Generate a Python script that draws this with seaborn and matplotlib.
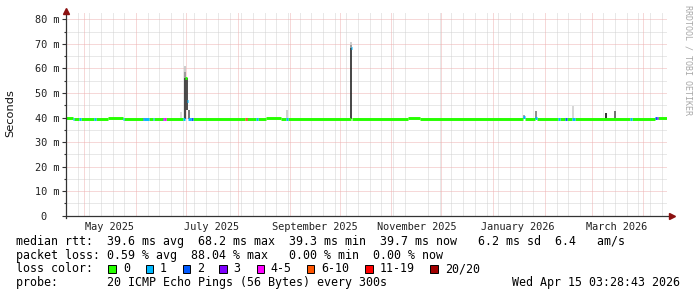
import matplotlib
matplotlib.use("Agg")
import matplotlib.pyplot as plt
import matplotlib.dates as mdates
from matplotlib.ticker import FixedLocator, FuncFormatter, NullFormatter
from matplotlib.patches import Rectangle
import seaborn as sns
import pandas as pd

# ---------------- data ----------------
# median rtt segments (start, end, median ms, loss class)
med_start = ["2025-04-20 00:00", "2025-04-24", "2025-04-25", "2025-04-28", "2025-04-29",
             "2025-05-07", "2025-05-08", "2025-05-15", "2025-05-24", "2025-05-25",
             "2025-06-05", "2025-06-06", "2025-06-09", "2025-06-11", "2025-06-12",
             "2025-06-17", "2025-06-18", "2025-06-19", "2025-06-29", "2025-06-30 12:00",
             "2025-07-01 06:00", "2025-07-02 00:00", "2025-07-04", "2025-07-05", "2025-08-05",
             "2025-08-06", "2025-08-06 18:00", "2025-08-12", "2025-08-13", "2025-08-18",
             "2025-08-27", "2025-08-30", "2025-08-31", "2025-10-07 18:00", "2025-10-08 12:00",
             "2025-11-11", "2025-11-18", "2026-01-19", "2026-01-20", "2026-01-26",
             "2026-01-27", "2026-02-09", "2026-02-10", "2026-02-13", "2026-02-14",
             "2026-02-17", "2026-02-19", "2026-03-24", "2026-03-25", "2026-04-08",
             "2026-04-09", "2026-04-10"]
med_end = ["2025-04-24", "2025-04-25", "2025-04-28", "2025-04-29", "2025-05-07",
           "2025-05-08", "2025-05-15", "2025-05-24", "2025-05-25", "2025-06-05",
           "2025-06-06", "2025-06-09", "2025-06-11", "2025-06-12", "2025-06-17",
           "2025-06-18", "2025-06-19", "2025-06-29", "2025-06-30 12:00", "2025-07-01 06:00",
           "2025-07-02 00:00", "2025-07-04", "2025-07-05", "2025-08-05", "2025-08-06",
           "2025-08-06 18:00", "2025-08-12", "2025-08-13", "2025-08-18", "2025-08-27",
           "2025-08-30", "2025-08-31", "2025-10-07 18:00", "2025-10-08 12:00", "2025-11-11",
           "2025-11-18", "2026-01-19", "2026-01-20", "2026-01-26", "2026-01-27",
           "2026-02-09", "2026-02-10", "2026-02-13", "2026-02-14", "2026-02-17",
           "2026-02-19", "2026-03-24", "2026-03-25", "2026-04-08", "2026-04-09",
           "2026-04-10", "2026-04-15 03:28"]
med_ms = [39.8, 39.6, 39.3, 39.3, 39.3,
          39.3, 39.3, 39.8, 39.6, 39.3,
          39.6, 39.6, 39.6, 39.6, 39.6,
          39.6, 39.6, 39.6, 39.6, 56.0,
          46.8, 39.6, 39.6, 39.6, 39.3,
          39.3, 39.6, 39.6, 39.6, 39.8,
          39.6, 39.6, 39.6, 68.2, 39.6,
          39.8, 39.6, 40.4, 39.6, 39.8,
          39.6, 39.6, 39.6, 39.6, 39.6,
          39.6, 39.6, 39.6, 39.6, 39.8,
          39.8, 39.7]
med_loss = ["0", "1", "0", "1", "0",
            "1", "0", "0", "1", "0",
            "2", "1", "0", "1", "0",
            "3", "4-5", "0", "1", "0",
            "1", "1", "2", "0", "6-10",
            "11-19", "0", "1", "0", "0",
            "0", "1", "0", "1", "0",
            "0", "0", "1", "0", "1",
            "0", "1", "0", "2", "0",
            "1", "0", "1", "0", "2",
            "3", "0"]

# smoke (ping spread) bars
smoke_t = ["2025-06-28 00:00", "2025-06-30 12:00", "2025-06-30 12:00", "2025-06-30 12:00",
           "2025-07-01 14:00", "2025-07-02 16:00", "2025-08-30 12:00", "2025-10-08 00:00",
           "2025-10-08 00:00", "2025-10-08 00:00", "2026-01-19 12:00", "2026-01-26 12:00",
           "2026-02-18 00:00", "2026-03-09 12:00", "2026-03-15 00:00"]
smoke_low = [39.6, 39.6, 56.0, 58.5, 43.0, 39.6, 39.6, 39.6, 68.2, 69.5, 39.6, 39.6, 39.6, 39.6, 39.6]
smoke_high = [42.4, 56.0, 58.5, 61.2, 56.0, 43.0, 43.0, 68.2, 69.5, 70.6, 41.0, 42.5, 44.7, 41.8, 42.5]
smoke_shade = ["#d8d8d8", "#262626", "#8a8a8a", "#c4c4c4", "#303030", "#5a5a5a", "#c8c8c8",
               "#262626", "#8a8a8a", "#c8c8c8", "#9a9a9a", "#7a7a7a", "#cfcfcf", "#111111", "#5a5a5a"]

loss_classes = ["0", "1", "2", "3", "4-5", "6-10", "11-19", "20/20"]
loss_colors = ["#26ff00", "#00b8ff", "#0059ff", "#7e00ff", "#ff00ff", "#ff5500", "#ff0000", "#a10000"]

month_labels = ["May 2025", "July 2025", "September 2025", "November 2025", "January 2026", "March 2026"]
month_label_dates = ["2025-05-16", "2025-07-16", "2025-09-16", "2025-11-16", "2026-01-16", "2026-03-16"]

y_ticks = [0, 10, 20, 30, 40, 50, 60, 70, 80]

line1 = "median rtt:  39.6 ms avg  68.2 ms max  39.3 ms min  39.7 ms now   6.2 ms sd  6.4   am/s"
line2 = "packet loss: 0.59 % avg  88.04 % max   0.00 % min  0.00 % now"
line4 = "probe:       20 ICMP Echo Pings (56 Bytes) every 300s"
stamp = "Wed Apr 15 03:28:43 2026"

# ---------------- build tables ----------------
rows = []
for i, (s, e, v, l) in enumerate(zip(med_start, med_end, med_ms, med_loss)):
    rows.append((i, pd.Timestamp(s), v, l))
    rows.append((i, pd.Timestamp(e), v, l))
med_df = pd.DataFrame(rows, columns=["seg", "t", "ms", "loss"])

srows = []
for i, (t, lo, hi, c) in enumerate(zip(smoke_t, smoke_low, smoke_high, smoke_shade)):
    srows.append((i, pd.Timestamp(t), lo, c))
    srows.append((i, pd.Timestamp(t), hi, c))
smoke_df = pd.DataFrame(srows, columns=["bar", "t", "ms", "shade"])

# ---------------- figure ----------------
W, H = 697, 297
fig = plt.figure(figsize=(W / 100, H / 100), dpi=100)
fig.patch.set_facecolor("white")
ax = fig.add_axes([66 / W, 1 - 215.7 / H, 601 / W, 202.7 / H])
ax.set_facecolor("white")

x0 = pd.Timestamp("2025-04-20 00:00")
x1 = pd.Timestamp("2026-04-15 03:28")

sns.lineplot(data=smoke_df, x="t", y="ms", hue="shade", units="bar", estimator=None,
             palette={c: c for c in set(smoke_shade)}, linewidth=1.2, legend=False,
             sort=False, ax=ax, solid_capstyle="butt")
sns.lineplot(data=med_df, x="t", y="ms", hue="loss", units="seg", estimator=None,
             palette=dict(zip(loss_classes, loss_colors)), linewidth=2.1, legend=False,
             sort=False, ax=ax, solid_capstyle="butt")

ax.set_xlim(x0, x1)
ax.set_ylim(0, 82.6)
ax.set_xlabel("")
ax.set_ylabel("")

# grids: fine dotted lines
red = "#eeb2b2"
grey = "#d2d2d2"
dot = (0, (1, 1))
gkw = dict(linestyle=dot, linewidth=0.72, snap=True)
ax.set_axisbelow(True)
ax.yaxis.set_major_locator(FixedLocator(y_ticks))
ax.yaxis.set_minor_locator(FixedLocator([5, 15, 25, 35, 45, 55, 65, 75]))
ax.yaxis.set_major_formatter(FuncFormatter(lambda v, p: f"{int(v)} m" if v else "0  "))
ax.yaxis.grid(True, which="major", color=red, **gkw)
ax.yaxis.grid(True, which="minor", color=grey, **gkw)

weeks = [d for d in pd.date_range("2025-04-20", "2026-04-15", freq="W-SUN") if d.day != 1]
months = list(pd.date_range("2025-05-01", "2026-04-15", freq="MS"))
ax.xaxis.set_minor_locator(FixedLocator(mdates.date2num(weeks)))
ax.xaxis.set_minor_formatter(NullFormatter())
ax.xaxis.grid(True, which="minor", color=grey, **gkw)
vl = ax.vlines(mdates.date2num(months), 0, 1, transform=ax.get_xaxis_transform(),
               colors=red, linestyles=dot, linewidth=0.72, zorder=0.6)
vl.set_snap(True)
ax.set_xticks(mdates.date2num(pd.to_datetime(month_label_dates)))
ax.set_xticklabels(month_labels)

ax.tick_params(axis="x", which="both", length=0, pad=4.5, labelsize=7.4,
               labelcolor="#222222", labelfontfamily="DejaVu Sans Mono")
ax.tick_params(axis="y", which="major", length=3, width=0.8, color="#333333", pad=2,
               labelsize=7.4, labelcolor="#222222", labelfontfamily="DejaVu Sans Mono")
ax.tick_params(axis="y", which="minor", length=1.5, width=0.8, color="#333333")

for s in ["top", "right", "bottom", "left"]:
    ax.spines[s].set_visible(False)
axis_c = "#333333"
ax.plot([0, 0], [-0.012, 1.0], transform=ax.transAxes, color=axis_c, lw=0.9, clip_on=False, zorder=5)
ax.plot([0, 1.006], [0, 0], transform=ax.transAxes, color=axis_c, lw=0.9, clip_on=False, zorder=5)
ax.plot([0], [1.012], transform=ax.transAxes, marker="^", color="#8b1010", ms=4, clip_on=False, zorder=6)
ax.plot([1.0085], [0], transform=ax.transAxes, marker=">", color="#8b1010", ms=4, clip_on=False, zorder=6)

# axis label and watermark
fig.text(10.5 / W, 1 - 113 / H, "Seconds", rotation=90, ha="center", va="center",
         fontsize=8.2, family="DejaVu Sans", color="#111111")
fig.text(688 / W, 1 - 5 / H, "RRDTOOL / TOBI OETIKER", rotation=270, ha="center", va="top",
         fontsize=6, family="DejaVu Sans Mono", color="#a8a8a8")

# bottom legend text
mono = dict(family="DejaVu Sans Mono", fontsize=8.4, color="black", va="baseline", ha="left")
fig.text(16 / W, 1 - 245 / H, line1, **mono)
fig.text(16 / W, 1 - 258.7 / H, line2, **mono)
fig.text(16 / W, 1 - 272.5 / H, "loss color:", **mono)
fig.text(16 / W, 1 - 286.4 / H, line4, **mono)
fig.text(680.5 / W, 1 - 286.4 / H, stamp, **{**mono, "ha": "right"})

box_x = [108.3, 145.7, 182.7, 219.3, 256.7, 306.7, 365, 430]
lab_x = [123.3, 160, 196.7, 233.3, 270.3, 321, 380, 445]
for bx, lx, c, lab in zip(box_x, lab_x, loss_colors, loss_classes):
    fig.add_artist(Rectangle((bx / W, 1 - 273.3 / H), 7.7 / W, 8.3 / H, transform=fig.transFigure,
                             facecolor=c, edgecolor="black", linewidth=0.7))
    fig.text(lx / W, 1 - 272.5 / H, lab, **mono)

fig.savefig("out.png", dpi=100, facecolor="white")
